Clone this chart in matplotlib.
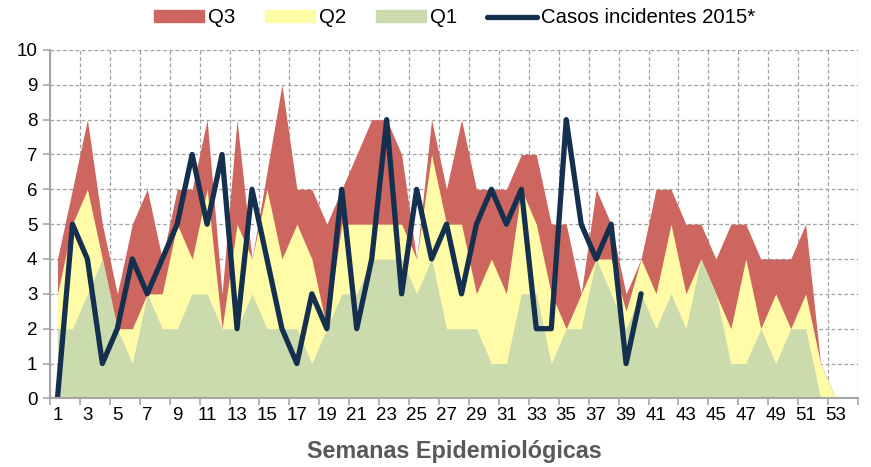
#!/usr/bin/env python3
"""Render weekly incidence chart: 2015 cases against historical quartiles.

Overlapping area series (Q3 behind, Q2, Q1 in front) by epidemiological
week, with the 2015 incident cases drawn as a thick line on top.
"""

import matplotlib
matplotlib.use("Agg")
import matplotlib.pyplot as plt
import matplotlib.patches as mpatches
from matplotlib.lines import Line2D

# Data
WEEKS = list(range(1, 54))
Q3 = [4, 6, 8, 5, 3, 5, 6, 4, 6, 6, 8, 3, 8, 4, 6.5, 9, 6, 6, 5, 6,
      7, 8, 8, 7, 4, 8, 6, 8, 6, 6, 6, 7, 7, 5, 5, 3, 6, 5, 3, 4,
      6, 6, 5, 5, 4, 5, 5, 4, 4, 4, 5, 1, 0]
Q2 = [3, 5, 6, 4, 2, 2, 3, 3, 5, 4, 6, 2, 5, 4, 6, 4, 5, 4, 2, 5,
      5, 5, 5, 5, 4, 7, 5, 5, 3, 4, 3, 6, 5, 3, 2, 3, 4, 4, 2.5, 4,
      3, 5, 3, 4, 3, 2, 4, 2, 3, 2, 3, 1, 0]
Q1 = [2, 2, 3, 4, 2, 1, 3, 2, 2, 3, 3, 2, 2, 3, 2, 2, 2, 1, 2, 3,
      3, 4, 4, 4, 3, 4, 2, 2, 2, 1, 1, 3, 3, 1, 2, 2, 4, 3, 2, 3,
      2, 3, 2, 4, 3, 1, 1, 2, 1, 2, 2, 0, 0]
CASES_2015 = [0, 5, 4, 1, 2, 4, 3, 4, 5, 7, 5, 7, 2, 6, 4, 2, 1, 3, 2, 6,
              2, 4, 8, 3, 6, 4, 5, 3, 5, 6, 5, 6, 2, 2, 8, 5, 4, 5, 1, 3]
SERIES_LABELS = ["Q3", "Q2", "Q1", "Casos incidentes 2015*"]
XLABEL = "Semanas Epidemiológicas"

COLOR_Q3 = "#CD665F"
COLOR_Q2 = "#FFFBA6"
COLOR_Q1 = "#CCDBAD"
COLOR_LINE = "#15304F"
COLOR_GRID = "#A0A0A0"
COLOR_AXIS = "#A6A6A6"

plt.rcParams["font.family"] = ["Liberation Sans", "DejaVu Sans"]


def render(out_path: str) -> None:
    fig = plt.figure(figsize=(8.71, 4.67), dpi=100)
    ax = fig.add_axes([0.0574, 0.147, 0.9277, 0.746])

    ax.fill_between(WEEKS, 0, Q3, color=COLOR_Q3, linewidth=0, zorder=2)
    ax.fill_between(WEEKS, 0, Q2, color=COLOR_Q2, linewidth=0, zorder=3)
    ax.fill_between(WEEKS, 0, Q1, color=COLOR_Q1, linewidth=0, zorder=4)
    ax.plot(range(1, len(CASES_2015) + 1), CASES_2015, color=COLOR_LINE,
            linewidth=3.8, solid_joinstyle="round", solid_capstyle="round",
            zorder=5)

    # category axis: boundaries every two weeks, labels on odd weeks
    ax.set_xlim(0.5, 54.5)
    ax.set_ylim(0, 10)
    ax.set_xticks(range(1, 54, 2))
    ax.set_xticks([0.5 + 2 * i for i in range(28)], minor=True)
    ax.set_yticks(range(0, 11))
    ax.tick_params(axis="x", which="major", length=0, labelsize=13.5, pad=6)
    ax.tick_params(axis="x", which="minor", length=5, width=1.2,
                   color=COLOR_AXIS)
    ax.tick_params(axis="y", length=5, width=1.2, color=COLOR_AXIS,
                   labelsize=13.5, pad=4)

    ax.grid(axis="y", which="major", linestyle=(0, (3, 2)), color=COLOR_GRID,
            linewidth=0.9, zorder=1)
    ax.grid(axis="x", which="minor", linestyle=(0, (3, 2)), color=COLOR_GRID,
            linewidth=0.9, zorder=1)
    ax.grid(axis="x", which="major", visible=False)
    ax.set_axisbelow(True)

    for side in ("top", "right"):
        ax.spines[side].set_visible(False)
    for side in ("left", "bottom"):
        ax.spines[side].set_color(COLOR_AXIS)
        ax.spines[side].set_linewidth(1.5)
        ax.spines[side].set_zorder(6)

    ax.set_xlabel(XLABEL, fontsize=16.8, fontweight="bold", color="#595959",
                  labelpad=12)

    handles = [
        mpatches.Patch(color=COLOR_Q3, label=SERIES_LABELS[0]),
        mpatches.Patch(color=COLOR_Q2, label=SERIES_LABELS[1]),
        mpatches.Patch(color=COLOR_Q1, label=SERIES_LABELS[2]),
        Line2D([], [], color=COLOR_LINE, linewidth=3.8,
               solid_capstyle="round", label=SERIES_LABELS[3]),
    ]
    fig.legend(handles=handles, loc="center", bbox_to_anchor=(0.522, 0.962),
               ncol=4, frameon=False, fontsize=14.7, handlelength=2.45,
               handleheight=0.55, handletextpad=0.2, columnspacing=1.45)

    fig.savefig(out_path, dpi=100)
    plt.close(fig)


if __name__ == "__main__":
    render("out.png")
